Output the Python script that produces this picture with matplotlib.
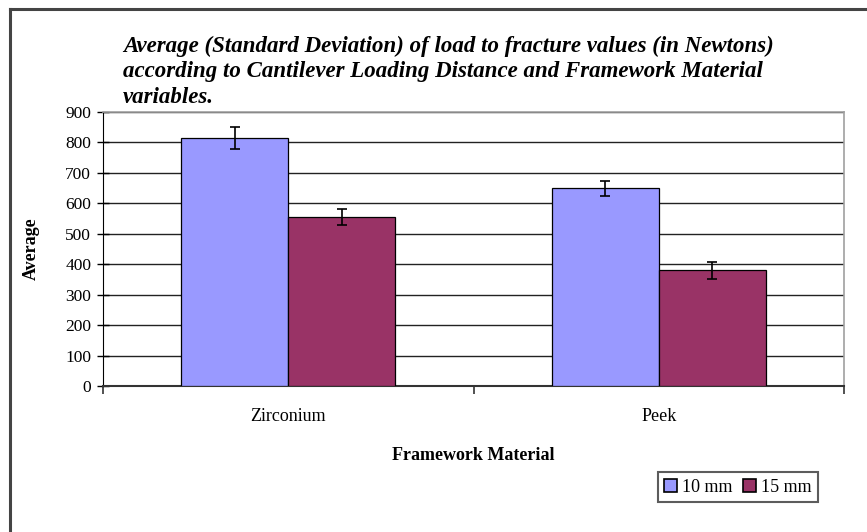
import matplotlib.pyplot as plt
import numpy as np
from matplotlib.patches import Rectangle
from matplotlib.lines import Line2D

materials = ["Zirconium", "Peek"]
series = ["10 mm", "15 mm"]
avg_10mm = [815, 650]
avg_15mm = [555, 380]
sd_10mm = [35, 25]
sd_15mm = [25, 27]
colors = ["#9999FF", "#993366"]
y_ticks = [0, 100, 200, 300, 400, 500, 600, 700, 800, 900]

plt.rcParams["font.family"] = ["Liberation Serif", "DejaVu Serif"]

fig = plt.figure(figsize=(8.67, 5.32), dpi=100)
ax = fig.add_axes([103 / 867, 1 - 386 / 532, 741 / 867, 274 / 532])

x = np.arange(len(materials))
w = 0.289
err_style = dict(ecolor="black", elinewidth=1.2, capsize=3.8, capthick=1.2)
ax.bar(x - w / 2, avg_10mm, w, color=colors[0], edgecolor="black", linewidth=0.9,
       yerr=sd_10mm, error_kw=err_style, zorder=3, label=series[0])
ax.bar(x + w / 2, avg_15mm, w, color=colors[1], edgecolor="black", linewidth=0.9,
       yerr=sd_15mm, error_kw=err_style, zorder=3, label=series[1])

ax.set_xlim(-0.5, len(materials) - 0.5)
ax.set_ylim(0, 900)
ax.set_yticks(y_ticks)
ax.yaxis.grid(True, color="#222222", linewidth=1.0, zorder=0)
ax.set_axisbelow(True)

ax.set_xticks(x)
ax.set_xticklabels(materials, fontsize=13)
ax.set_xticks(np.arange(-0.5, len(materials), 1), minor=True)
ax.tick_params(axis="x", which="major", length=0, pad=16)
ax.tick_params(axis="x", which="minor", length=6, width=1.2, direction="out", color="#333333")
ax.tick_params(axis="y", which="major", length=9, width=1.0, direction="inout", labelsize=12.5, pad=4)

for side in ["top", "right"]:
    ax.spines[side].set_color("#A0A0A0")
    ax.spines[side].set_linewidth(1.2)
ax.spines["left"].set_color("black")
ax.spines["bottom"].set_color("#333333")
ax.spines["bottom"].set_linewidth(1.5)

ax.set_ylabel("Average", fontsize=13, fontweight="bold", labelpad=18)
ax.set_xlabel("Framework Material", fontsize=13, fontweight="bold", labelpad=16)

fig.text(123 / 867, 1 - 36 / 532,
         "Average (Standard Deviation) of load to fracture values (in Newtons)\n"
         "according to Cantilever Loading Distance and Framework Material\n"
         "variables.",
         fontsize=16.5, fontweight="bold", style="italic", va="top", ha="left",
         linespacing=1.26)

handles = [Rectangle((0, 0), 1, 1, facecolor=c, edgecolor="black", linewidth=1.2) for c in colors]
leg = fig.legend(handles, series, loc="center", bbox_to_anchor=(738 / 867, 1 - 487 / 532),
                 ncol=2, fontsize=13, frameon=True, fancybox=False, edgecolor="#333333",
                 handlelength=0.7, handleheight=0.7, handletextpad=0.3, columnspacing=0.6,
                 borderpad=0.35)
leg.get_frame().set_linewidth(1.5)

# outer chart-area border (left and top edges visible)
fig.add_artist(Line2D([10 / 867, 10 / 867], [0, 1 - 9 / 532], color="#444444", linewidth=2.2))
fig.add_artist(Line2D([10 / 867, 1], [1 - 9 / 532, 1 - 9 / 532], color="#444444", linewidth=2.2))

plt.savefig("out.png", dpi=100)
